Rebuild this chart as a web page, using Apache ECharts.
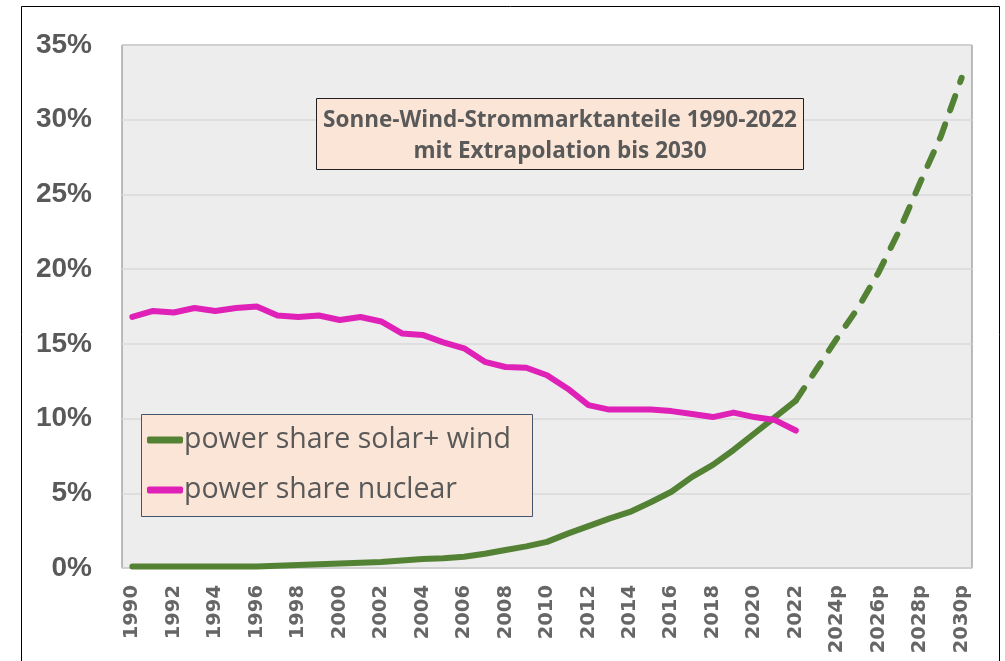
<!DOCTYPE html>
<html>
<head>
<meta charset="utf-8">
<script src="https://cdn.jsdelivr.net/npm/echarts@6/dist/echarts.min.js"></script>
<style>
  html, body { margin: 0; padding: 0; background: #ffffff; }
  #chart { width: 1005px; height: 661px; }
</style>
</head>
<body>
<div id="chart"></div>
<script>
// Year categories; the extrapolated years carry a "p" suffix
const years = [
  '1990','1991','1992','1993','1994','1995','1996','1997','1998','1999',
  '2000','2001','2002','2003','2004','2005','2006','2007','2008','2009',
  '2010','2011','2012','2013','2014','2015','2016','2017','2018','2019',
  '2020','2021','2022',
  '2023p','2024p','2025p','2026p','2027p','2028p','2029p','2030p'
];

// Share of solar + wind in the power market, % (1990-2022)
const solarWind = [
  0.1, 0.1, 0.1, 0.1, 0.1, 0.1, 0.1, 0.15, 0.2, 0.25,
  0.3, 0.35, 0.4, 0.5, 0.6, 0.65, 0.75, 0.95, 1.2, 1.45,
  1.75, 2.3, 2.8, 3.3, 3.75, 4.4, 5.1, 6.1, 6.9, 7.9,
  9.0, 10.1, 11.2
];

// Extrapolated solar + wind share, % (2022-2030)
const solarWindExtrapolated = [11.2, 13.3, 15.4, 17.4, 19.8, 22.6, 25.8, 28.9, 32.8];

// Share of nuclear power, % (1990-2022)
const nuclear = [
  16.8, 17.2, 17.1, 17.4, 17.2, 17.4, 17.5, 16.9, 16.8, 16.9,
  16.6, 16.8, 16.5, 15.7, 15.6, 15.1, 14.7, 13.8, 13.45, 13.4,
  12.9, 12.0, 10.9, 10.6, 10.6, 10.6, 10.5, 10.3, 10.1, 10.4,
  10.1, 9.9, 9.2
];

const yTicks = [0, 5, 10, 15, 20, 25, 30, 35];

const seriesNames = ['power share solar+ wind', 'power share nuclear'];
const titleLines = ['Sonne-Wind-Strommarktanteile 1990-2022', 'mit Extrapolation bis 2030'];

const GREEN = '#548235';
const MAGENTA = '#df21b7';
const TEXT = '#595959';

// Pad the series to the full category range
const pad = (arr, before, total) => {
  const out = new Array(before).fill(null).concat(arr);
  while (out.length < total) out.push(null);
  return out;
};
const n = years.length;
const solidData = pad(solarWind, 0, n);
const dashedData = pad(solarWindExtrapolated, solarWind.length - 1, n);
const nuclearData = pad(nuclear, 0, n);

const chart = echarts.init(document.getElementById('chart'));

chart.setOption({
  animation: false,
  backgroundColor: '#ffffff',
  grid: {
    left: 122, right: 33, top: 45, bottom: 93,
    show: true,
    backgroundColor: '#ededed',
    borderColor: '#7f7f7f',
    borderWidth: 1
  },
  xAxis: {
    type: 'category',
    data: years,
    boundaryGap: true,
    axisLine: { show: true, lineStyle: { color: '#d0d0d0', width: 1 } },
    axisTick: { show: false },
    axisLabel: {
      interval: 1,
      rotate: 90,
      margin: 17,
      color: '#666666',
      fontFamily: 'DejaVu Sans',
      fontWeight: 'bold',
      fontSize: 19.5
    },
    splitLine: { show: false }
  },
  yAxis: {
    type: 'value',
    min: yTicks[0],
    max: yTicks[yTicks.length - 1],
    interval: 5,
    axisLine: { show: false },
    axisTick: { show: false },
    axisLabel: {
      margin: 30,
      color: TEXT,
      fontFamily: 'Liberation Sans',
      fontWeight: 'bold',
      fontSize: 28,
      formatter: v => v + '%'
    },
    splitLine: { show: true, lineStyle: { color: '#d9d9d9', width: 1.5 } }
  },
  legend: {
    data: seriesNames,
    orient: 'vertical',
    left: 147,
    top: 424,
    z: 120,
    icon: 'roundRect',
    itemWidth: 36,
    itemHeight: 7,
    itemGap: 18,
    padding: 0,
    textStyle: {
      color: TEXT,
      fontFamily: 'Open Sans',
      fontSize: 28.5,
      lineHeight: 32,
      padding: [0, 0, 0, -4]
    }
  },
  graphic: [
    {
      type: 'rect',
      z: 100,
      shape: { x: 21.5, y: 6.5, width: 978, height: 700 },
      style: { fill: 'none', stroke: '#000000', lineWidth: 1 }
    },
    {
      type: 'rect',
      z: 100,
      shape: { x: 316.5, y: 98.5, width: 487, height: 71 },
      style: { fill: '#fbe5d6', stroke: '#1f1f1f', lineWidth: 1 }
    },
    {
      type: 'text',
      z: 101,
      x: 560,
      y: 136,
      style: {
        text: titleLines.join('\n'),
        align: 'center',
        verticalAlign: 'middle',
        fill: TEXT,
        font: 'bold 22.5px "Open Sans"',
        lineHeight: 31
      }
    },
    {
      type: 'rect',
      z: 100,
      shape: { x: 141.5, y: 414.5, width: 391, height: 102 },
      style: { fill: '#fbe5d6', stroke: '#44546a', lineWidth: 1 }
    }
  ],
  series: [
    {
      name: seriesNames[0],
      type: 'line',
      data: solidData,
      showSymbol: false,
      symbol: 'none',
      color: GREEN,
      lineStyle: { color: GREEN, width: 6, cap: 'round', join: 'round' },
      z: 3
    },
    {
      name: 'Extrapolation',
      type: 'line',
      data: dashedData,
      showSymbol: false,
      symbol: 'none',
      color: GREEN,
      lineStyle: { color: GREEN, width: 6, type: [15, 15], cap: 'round', join: 'round' },
      z: 3
    },
    {
      name: seriesNames[1],
      type: 'line',
      data: nuclearData,
      showSymbol: false,
      symbol: 'none',
      color: MAGENTA,
      lineStyle: { color: MAGENTA, width: 6, cap: 'round', join: 'round' },
      z: 4
    }
  ]
});
</script>
</body>
</html>
